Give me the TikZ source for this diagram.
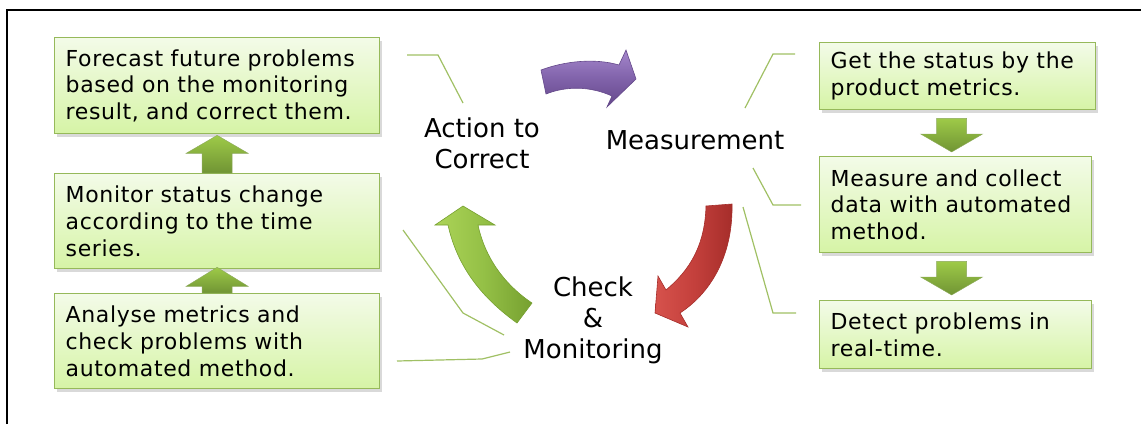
\documentclass[tikz,border=0pt]{standalone}
\usepackage{fontspec}
\setmainfont{DejaVu Sans}
\newfontfamily\boxfont[WordSpace=1.25,LetterSpace=3]{DejaVu Sans}
\usetikzlibrary{shadows,calc}

\definecolor{boxtop}{RGB}{243,251,232}
\definecolor{boxbot}{RGB}{214,244,166}
\definecolor{boxedge}{RGB}{150,185,90}
\definecolor{leader}{RGB}{160,192,100}
\definecolor{arrlight}{RGB}{158,202,72}
\definecolor{arrdark}{RGB}{112,148,52}
\definecolor{purlight}{RGB}{165,135,204}
\definecolor{purmid}{RGB}{128,98,170}
\definecolor{purdark}{RGB}{100,72,138}
\definecolor{redlight}{RGB}{214,82,76}
\definecolor{redmid}{RGB}{196,64,60}
\definecolor{reddark}{RGB}{165,45,42}
\definecolor{grnlight}{RGB}{172,212,88}
\definecolor{grnmid}{RGB}{148,192,70}
\definecolor{grndark}{RGB}{118,160,48}

\begin{document}
\begin{tikzpicture}[x=1pt,y=-1pt,
  stepbox/.style={draw=boxedge, line width=1.3pt, top color=boxtop, bottom color=boxbot,
    drop shadow={shadow xshift=2pt, shadow yshift=-3pt, opacity=.3},
    anchor=north west, align=left, inner xsep=11pt, inner ysep=0pt,
    font=\boxfont\fontsize{22}{26.7}\selectfont},
  lbl/.style={align=center, inner sep=0pt, font=\fontsize{26}{31}\selectfont},
  smallarrow/.style={top color=arrlight, bottom color=arrdark, draw=arrdark!80, line width=0.4pt},
  leaderline/.style={draw=leader, line width=1.2pt},
  bigarrow/.style={draw=#1dark, line width=0.6pt, left color=#1light, right color=#1dark, middle color=#1mid}
]
\useasboundingbox (0,0) rectangle (1141,424);

% frame
\draw[line width=2pt] (7,424) -- (7,10) -- (1141,10);

% left column
\node[stepbox, minimum width=325pt, minimum height=96pt, text width=303pt] (f1) at (54,37)
  {Forecast future problems\\based on the monitoring\\result, and correct them.};
\node[stepbox, minimum width=325pt, minimum height=95pt, text width=303pt] (m1) at (54,173)
  {Monitor status change\\according to the time\\series.};
\node[stepbox, minimum width=325pt, minimum height=95pt, text width=303pt] (a1) at (54,293)
  {Analyse metrics and\\check problems with\\automated method.};

% right column
\node[stepbox, minimum width=276pt, minimum height=67pt, text width=254pt] (g1) at (819,42)
  {Get the status by the\\product metrics.};
\node[stepbox, minimum width=272pt, minimum height=96pt, text width=250pt] (c1) at (819,156)
  {Measure and collect\\data with automated\\method.};
\node[stepbox, minimum width=272pt, minimum height=68pt, text width=250pt] (d1) at (819,300)
  {Detect problems in\\real-time.};

% block arrows, left column (upwards)
\path[smallarrow] let \p1=(m1.north), \p2=(f1.south) in
  (\x1-15pt,\y1) -- (\x1-15pt,\y2-19pt) -- (\x1-31pt,\y2-19pt) -- (\x1,\y2-1pt)
  -- (\x1+31pt,\y2-19pt) -- (\x1+15pt,\y2-19pt) -- (\x1+15pt,\y1) -- cycle;
\path[smallarrow] let \p1=(a1.north), \p2=(m1.south) in
  (\x1-15pt,\y1) -- (\x1-15pt,\y2-17pt) -- (\x1-31pt,\y2-17pt) -- (\x1,\y2+2pt)
  -- (\x1+31pt,\y2-17pt) -- (\x1+15pt,\y2-17pt) -- (\x1+15pt,\y1) -- cycle;

% block arrows, right column (downwards)
\path[smallarrow] let \p1=(g1.south), \p2=(c1.north) in
  (\x1-21pt,\y1-8pt) -- (\x1-21pt,\y2+22pt) -- (\x1-37pt,\y2+22pt) -- (\x1-6pt,\y2+4pt)
  -- (\x1+25pt,\y2+22pt) -- (\x1+9pt,\y2+22pt) -- (\x1+9pt,\y1-8pt) -- cycle;
\path[smallarrow] let \p1=(c1.south), \p2=(d1.north) in
  (\x1-19pt,\y1-8pt) -- (\x1-19pt,\y2+23pt) -- (\x1-35pt,\y2+23pt) -- (\x1-4pt,\y2+5pt)
  -- (\x1+27pt,\y2+23pt) -- (\x1+11pt,\y2+23pt) -- (\x1+11pt,\y1-8pt) -- cycle;

% cycle labels
\node[lbl] (act) at (482,143) {Action to\\Correct};
\node[lbl] (meas) at (695,140) {Measurement};
\node[lbl] (chk) at (593,320) {Check\\\&\\Monitoring};

% curved cycle arrows
\path[draw=purdark, line width=0.6pt, top color=purlight, bottom color=purdark, middle color=purmid]
  (541,70) .. controls (565,61) and (595,58) .. (619,65) -- (626,50) -- (636,79)
  -- (607,107) -- (612,96) .. controls (590,86) and (566,86) .. (546,94) -- cycle;
\path[bigarrow=red]
  (706,206) -- (732,204) .. controls (733,250) and (715,290) .. (680,313)
  -- (688,327) -- (655,313) -- (658,276) -- (666,290)
  .. controls (690,270) and (705,245) .. (706,206) -- cycle;
\path[bigarrow=grn]
  (517,323) .. controls (485,300) and (458,270) .. (448,225) -- (435,225) -- (463,206)
  -- (495,225) -- (478,225) .. controls (485,258) and (505,285) .. (532,303) -- cycle;

% leader lines from the cycle labels to the boxes
\coordinate (actA) at (463,103);  \coordinate (actB) at (407,55);
\coordinate (msA)  at (745,108);  \coordinate (msB)  at (795,54);
\coordinate (msC)  at (753,168);  \coordinate (msD)  at (801,205);
\coordinate (msE)  at (743,207);  \coordinate (msF)  at (796,313);
\coordinate (ckA)  at (504,335);  \coordinate (ckB)  at (403,230);
\coordinate (ckC)  at (510,352);  \coordinate (ckD)  at (397,361);
\draw[leaderline] (actA) -- (438,55) -- (actB);
\draw[leaderline] (msA) -- (773,54) -- (msB);
\draw[leaderline] (msC) -- (773,205) -- (msD);
\draw[leaderline] (msE) -- (773,313) -- (msF);
\draw[leaderline] (ckA) -- (463,313) -- (ckB);
\draw[leaderline] (ckC) -- (482,359) -- (ckD);
\end{tikzpicture}
\end{document}
